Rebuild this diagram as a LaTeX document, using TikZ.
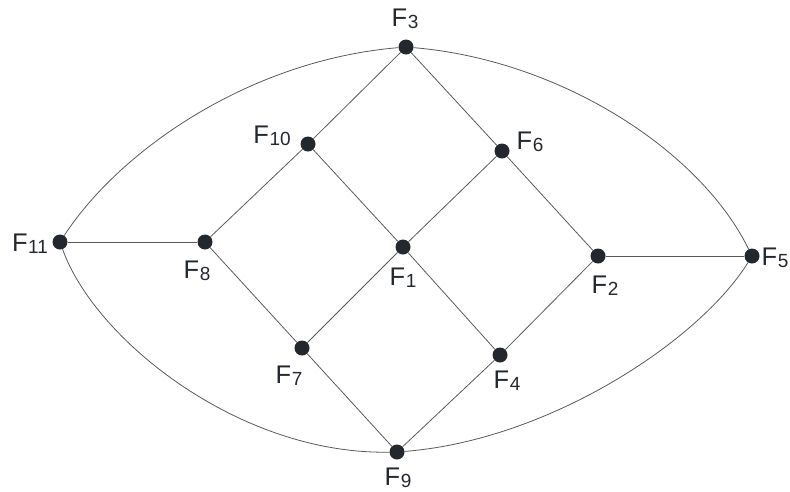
\documentclass[tikz,border=0pt]{standalone}
\usepackage{fontspec}
\setmainfont{Liberation Sans}
\definecolor{koyu}{HTML}{23282F}
\newcommand{\Fl}[1]{F\kern0.6pt\raisebox{-1.8pt}{\fontsize{19}{19}\selectfont #1}}
\begin{document}
\begin{tikzpicture}[x=1pt, y=-1pt,
  nokta/.style={circle, fill=koyu, inner sep=0pt, minimum size=15pt},
  etiket/.style={font=\fontsize{25.5}{26}\selectfont, text=koyu, inner sep=0pt},
  kenar/.style={draw=black!65, line width=0.8pt}]
  \useasboundingbox (0,0) rectangle (790,491);

  % --- kose noktalari ---
  \node[nokta] (F3)  at (406,47)  {};
  \node[nokta] (F10) at (308,144) {};
  \node[nokta] (F6)  at (502,151) {};
  \node[nokta] (F11) at (60,242)  {};
  \node[nokta] (F8)  at (205,242) {};
  \node[nokta] (F1)  at (403,247) {};
  \node[nokta] (F2)  at (598,256) {};
  \node[nokta] (F5)  at (752,256) {};
  \node[nokta] (F7)  at (302,348) {};
  \node[nokta] (F4)  at (500,355) {};
  \node[nokta] (F9)  at (397,452) {};

  % --- etiketler ---
  \node[etiket] (lF3)  at (405,19)  {\Fl{3}};
  \node[etiket] (lF10) at (272,136) {\Fl{10}};
  \node[etiket] (lF6)  at (530,142) {\Fl{6}};
  \node[etiket] (lF11) at (30,244)  {\Fl{11}};
  \node[etiket] (lF8)  at (197,271) {\Fl{8}};
  \node[etiket] (lF1)  at (403,278) {\Fl{1}};
  \node[etiket] (lF2)  at (605,286) {\Fl{2}};
  \node[etiket] (lF5)  at (775,258) {\Fl{5}};
  \node[etiket] (lF7)  at (289,376) {\Fl{7}};
  \node[etiket] (lF4)  at (507,381) {\Fl{4}};
  \node[etiket] (lF9)  at (398,478) {\Fl{9}};

  % --- dogru kenarlar ---
  \draw[kenar] (F3) -- (F10) (F3) -- (F6);
  \draw[kenar] (F10) -- (F8) (F10) -- (F1);
  \draw[kenar] (F6) -- (F1) (F6) -- (F2);
  \draw[kenar] (F11) -- (F8) (F2) -- (F5);
  \draw[kenar] (F8) -- (F7) (F1) -- (F7) (F1) -- (F4) (F2) -- (F4);
  \draw[kenar] (F7) -- (F9) (F4) -- (F9);

  % --- dis egriler ---
  \draw[kenar] (F11) .. controls (120,150) and (250,60) .. (F3);
  \draw[kenar] (F3) .. controls (560,60) and (700,150) .. (F5);
  \draw[kenar] (F11) .. controls (95,340) and (240,455) .. (F9);
  \draw[kenar] (F9) .. controls (550,440) and (700,340) .. (F5);
\end{tikzpicture}
\end{document}
